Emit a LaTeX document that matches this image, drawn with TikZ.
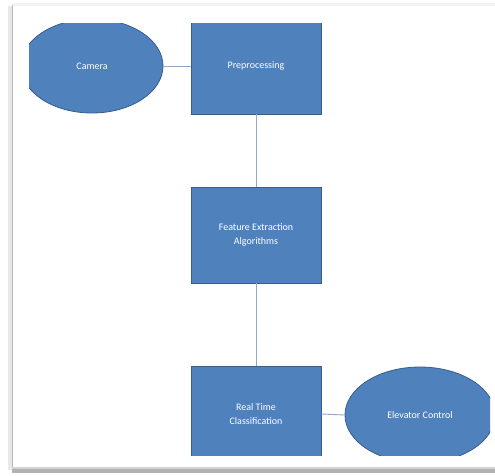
\documentclass[tikz,border=0pt]{standalone}
\usepackage{fontspec}
\setmainfont{Carlito}
\usetikzlibrary{shapes.geometric}
\definecolor{boxfill}{HTML}{4F81BD}
\definecolor{boxline}{HTML}{385D8A}
\definecolor{conn}{HTML}{8FA9C6}
\tikzset{
  block/.style={rectangle, draw=boxline, line width=0.8pt, fill=boxfill, minimum width=130pt, minimum height=96pt, text=white, align=center, font=\fontsize{10}{14}\selectfont, inner sep=0pt},
  oval/.style={ellipse, draw=boxline, line width=0.8pt, fill=boxfill, minimum width=142pt, minimum height=94pt, text=white, align=center, font=\fontsize{10}{14}\selectfont, inner sep=0pt},
  link/.style={draw=conn, line width=0.9pt}
}
\begin{document}
\begin{tikzpicture}[x=1pt,y=-1pt]
\useasboundingbox (0,0) rectangle (495,475);
\fill[white] (0,0) rectangle (495,475);
% page frame
\fill[gray!10] (12,3) rectangle (495,6);
\fill[gray!18] (8,6) rectangle (12,470);
\draw[gray!55, line width=1.4pt] (12.5,5) -- (12.5,470);
\fill[gray!35] (12,467) rectangle (495,469);
\fill[gray!60] (12,469) rectangle (495,473);
\begin{scope}
\clip (29,23) rectangle (490,455);
\node[oval] (cam) at (92,66) {Camera};
\node[block] (pre) at (256,66) {Preprocessing};
\node[block] (fea) at (256,235) {Feature Extraction\\Algorithms};
\node[block] (rtc) at (256,414) {Real Time\\Classification};
\node[oval, minimum width=150pt, minimum height=96pt] (ele) at (420,415) {Elevator Control};
\end{scope}
\draw[link] (cam.east) -- (pre.west);
\draw[link] (pre.south) -- (fea.north);
\draw[link] (fea.south) -- (rtc.north);
\draw[link] (rtc.east) -- (ele.west);
\end{tikzpicture}
\end{document}
